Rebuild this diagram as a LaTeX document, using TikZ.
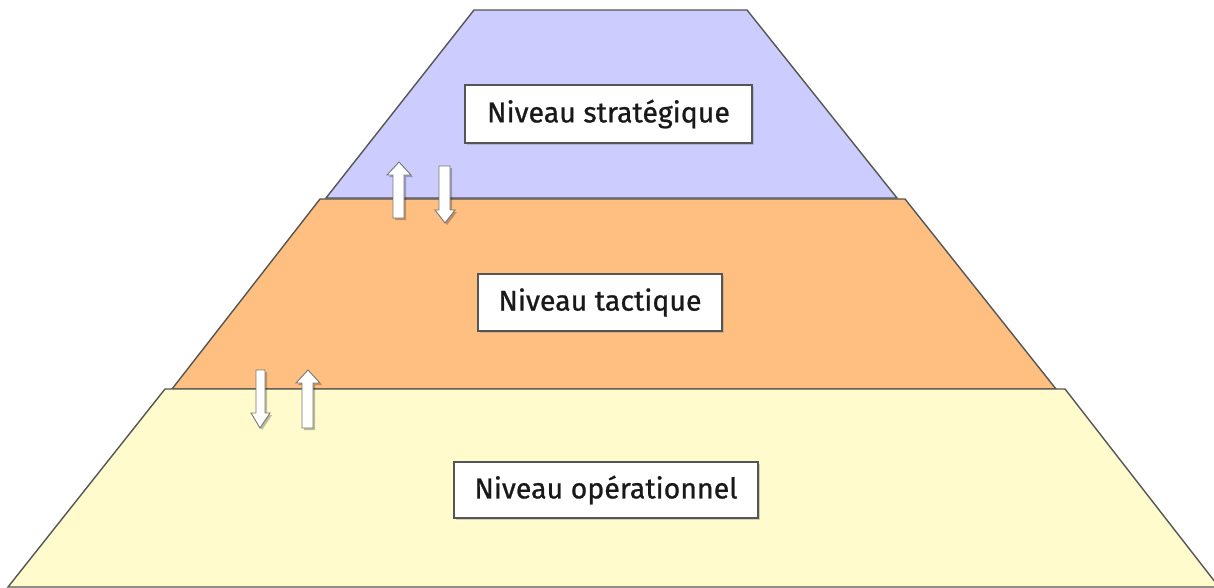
\documentclass[tikz,border=0pt]{standalone}
\usepackage{fontspec}
\setmainfont{Fira Sans}
\newfontfamily\levelfont[FakeBold=0.8]{Fira Sans}
\usetikzlibrary{shadows}
\definecolor{stratfill}{HTML}{CCCCFF}
\definecolor{tactfill}{HTML}{FFBF80}
\definecolor{opfill}{HTML}{FFFBCC}
\definecolor{edge}{HTML}{555555}
\tikzset{
  layer/.style={draw=edge, line width=1.4pt, line join=miter},
  label/.style={draw=edge, line width=1.2pt, fill=white, inner sep=0pt,
    font=\levelfont\fontsize{28.5}{31}\selectfont, text=black!90,
    drop shadow={shadow xshift=1.5pt, shadow yshift=-1.5pt, opacity=0.35}},
  blockarrow/.style={draw=edge!80, line width=0.9pt, fill=white, line join=miter},
  arrowshade/.style={fill=black, opacity=0.25},
}
\begin{document}
\begin{tikzpicture}[x=1pt,y=-1pt]
\useasboundingbox (0,0) rectangle (1214,587);
\fill[white] (0,0) rectangle (1214,587);

% the three levels of the pyramid, top to bottom
\draw[layer, fill=stratfill] (474,10) -- (747,10) -- (897,198) -- (326,198) -- cycle;
\draw[layer, fill=tactfill] (320,199) -- (905,199) -- (1056,389) -- (172,389) -- cycle;
\draw[layer, fill=opfill] (165,389) -- (1065,389) -- (1219,587) -- (8,587) -- cycle;

% level captions
\node[label, minimum width=287pt, minimum height=58pt] (strat) at (608.5,114) {Niveau stratégique};
\node[label, minimum width=244pt, minimum height=57pt] (tact) at (600,302.5) {Niveau tactique};
\node[label, minimum width=304pt, minimum height=56pt] (oper) at (606,490) {Niveau opérationnel};

% exchanges between strategic and tactical levels
\fill[arrowshade] (395,220) -- (395,177) -- (389,177) -- (401,164) -- (413,177) -- (406,177) -- (406,220) -- cycle;
\draw[blockarrow] (393,218) -- (393,175) -- (387,175) -- (399,162) -- (411,175) -- (404,175) -- (404,218) -- cycle;
\fill[arrowshade] (441,168) -- (452,168) -- (452,212) -- (457,212) -- (447,225) -- (437,212) -- (441,212) -- cycle;
\draw[blockarrow] (439,166) -- (450,166) -- (450,210) -- (455,210) -- (445,223) -- (435,210) -- (439,210) -- cycle;

% exchanges between tactical and operational levels
\fill[arrowshade] (258,372) -- (267,372) -- (267,415) -- (272,415) -- (262,430) -- (253,415) -- (258,415) -- cycle;
\draw[blockarrow] (256,370) -- (265,370) -- (265,413) -- (270,413) -- (260,428) -- (251,413) -- (256,413) -- cycle;
\fill[arrowshade] (304,430) -- (304,385) -- (298,385) -- (310,372) -- (322,385) -- (315,385) -- (315,430) -- cycle;
\draw[blockarrow] (302,428) -- (302,383) -- (296,383) -- (308,370) -- (320,383) -- (313,383) -- (313,428) -- cycle;
\end{tikzpicture}
\end{document}
